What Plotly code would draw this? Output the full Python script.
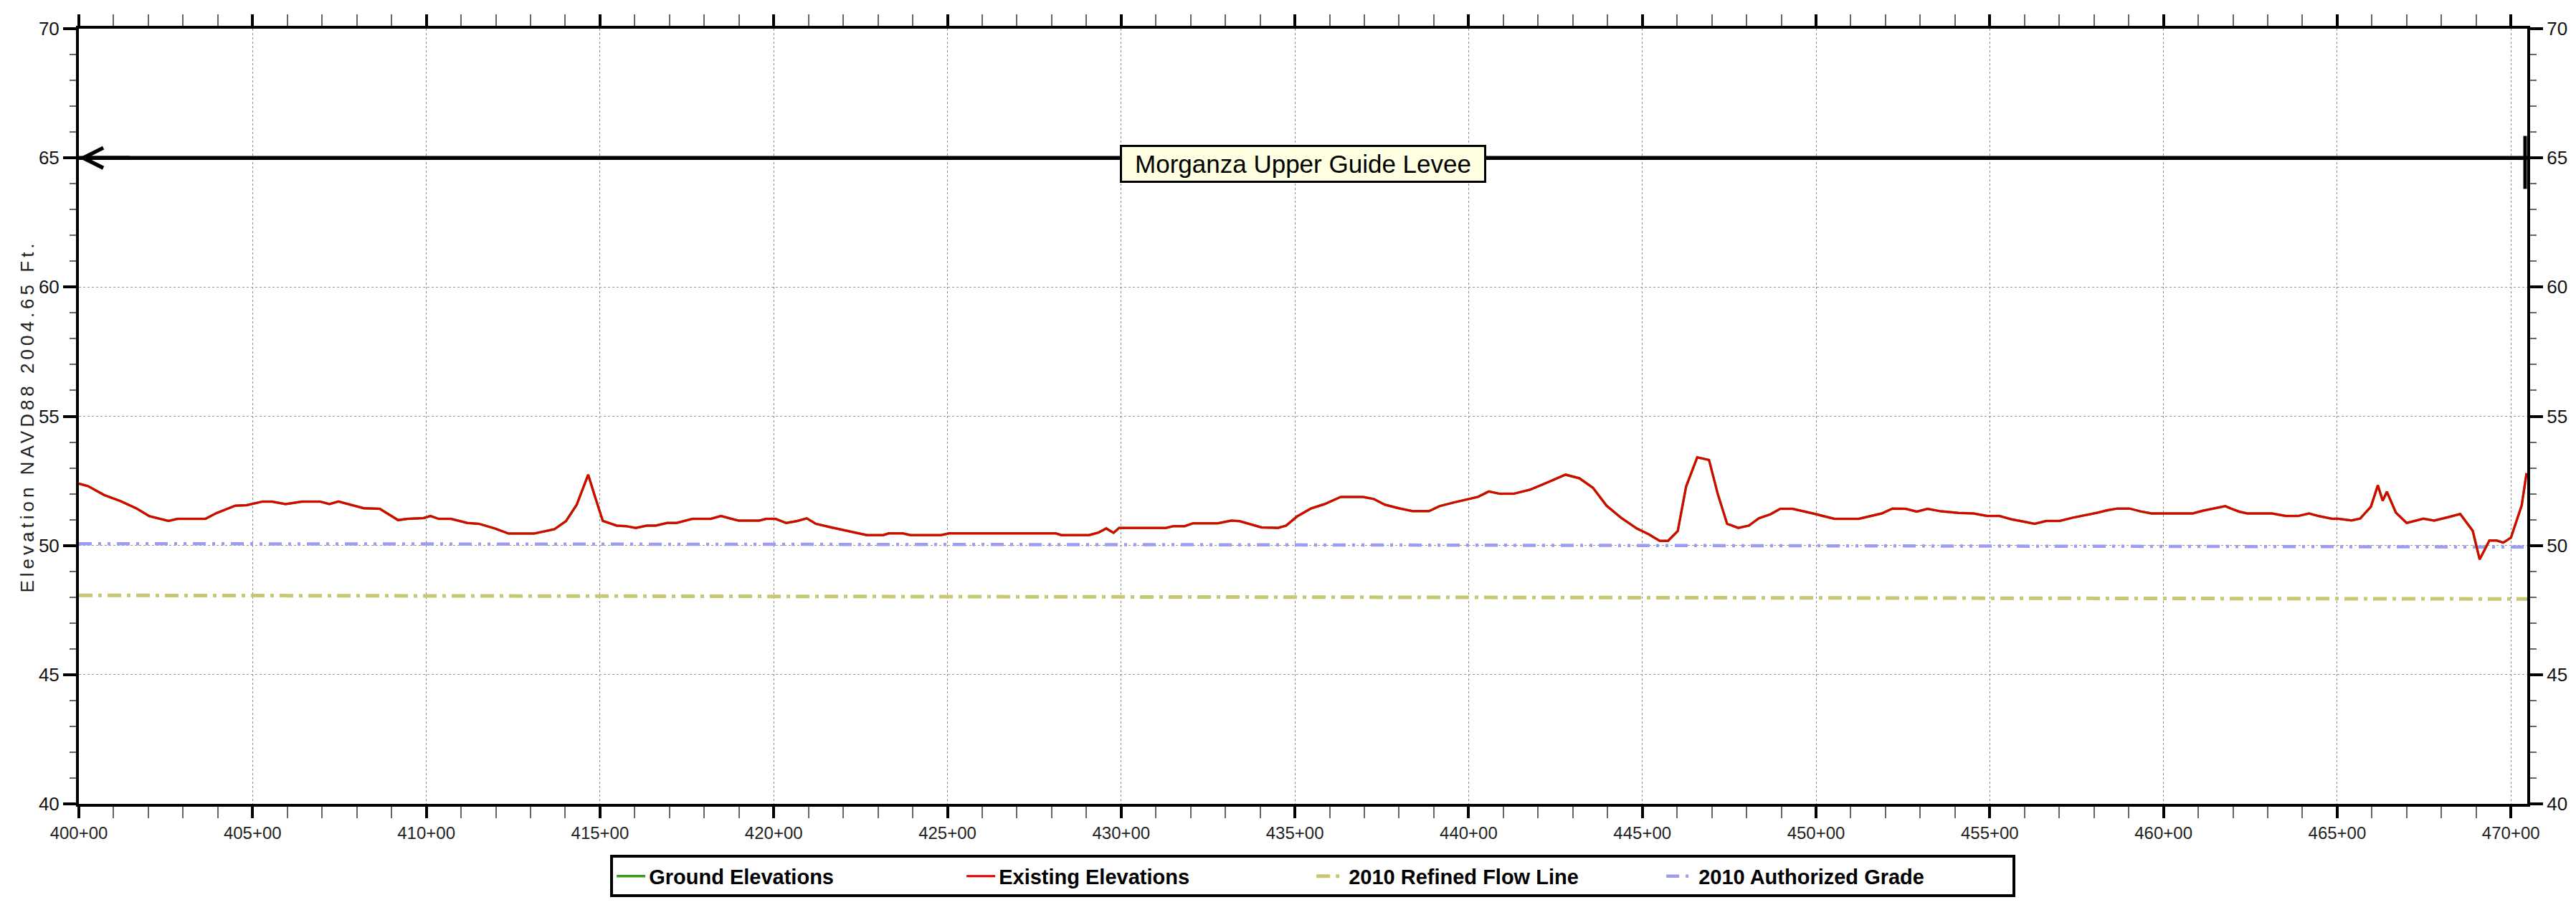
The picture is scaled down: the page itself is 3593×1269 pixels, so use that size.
import plotly.graph_objects as go

# ---------------- data ----------------
STATIONS = [400.0, 400.26, 400.73, 401.19, 401.65, 402.02, 402.58, 402.84, 403.64, 403.97,
            404.50, 404.83, 405.29, 405.56, 405.95, 406.42, 406.94, 407.21, 407.47, 408.20,
            408.66, 409.19, 409.46, 409.92, 410.12, 410.36, 410.71, 411.18, 411.51, 411.97,
            412.37, 413.10, 413.69, 414.02, 414.33, 414.66, 414.85, 415.08, 415.48, 415.74,
            416.03, 416.34, 416.60, 416.93, 417.20, 417.66, 418.19, 418.48, 418.99, 419.58,
            419.78, 420.05, 420.36, 420.68, 420.95, 421.21, 421.66, 422.13, 422.68, 423.15,
            423.31, 423.71, 423.94, 424.81, 425.05, 428.12, 428.28, 429.07, 429.35, 429.57,
            429.78, 429.94, 431.28, 431.51, 431.83, 432.07, 432.78, 433.17, 433.41, 434.04,
            434.51, 434.75, 435.06, 435.46, 435.85, 436.32, 436.96, 437.27, 437.59, 437.99,
            438.38, 438.86, 439.16, 439.56, 439.95, 440.27, 440.58, 440.90, 441.29, 441.77,
            442.24, 442.79, 443.19, 443.58, 443.97, 444.39, 444.84, 445.19, 445.50, 445.74,
            446.02, 446.26, 446.58, 446.92, 447.17, 447.44, 447.76, 448.07, 448.35, 448.69,
            448.97, 449.32, 450.00, 450.53, 451.23, 451.89, 452.20, 452.58, 452.90, 453.21,
            453.60, 454.10, 454.53, 454.92, 455.28, 455.63, 455.99, 456.29, 456.62, 457.01,
            457.37, 457.72, 458.08, 458.39, 458.67, 459.02, 459.34, 459.65, 460.84, 461.15,
            461.47, 461.78, 461.94, 462.18, 462.41, 463.12, 463.52, 463.87, 464.19, 464.46,
            464.86, 465.00, 465.41, 465.66, 465.97, 466.17, 466.31, 466.43, 466.69, 467.00,
            467.48, 467.79, 468.21, 468.54, 468.90, 469.10, 469.38, 469.59, 469.78, 470.00,
            470.31, 470.45]

EXISTING_ELEV = [52.39, 52.30, 51.95, 51.72, 51.44, 51.14, 50.95, 51.03, 51.03, 51.26,
                 51.54, 51.56, 51.70, 51.70, 51.60, 51.70, 51.70, 51.60, 51.70, 51.44,
                 51.42, 50.98, 51.03, 51.06, 51.14, 51.03, 51.03, 50.87, 50.84, 50.66,
                 50.46, 50.46, 50.63, 50.94, 51.58, 52.74, 51.91, 50.95, 50.77, 50.75,
                 50.68, 50.77, 50.77, 50.87, 50.87, 51.03, 51.03, 51.14, 50.96, 50.96,
                 51.03, 51.03, 50.87, 50.95, 51.05, 50.84, 50.70, 50.56, 50.40, 50.40,
                 50.47, 50.47, 50.40, 50.40, 50.47, 50.47, 50.40, 50.40, 50.50, 50.66,
                 50.49, 50.68, 50.68, 50.75, 50.75, 50.86, 50.86, 50.96, 50.94, 50.70,
                 50.68, 50.77, 51.12, 51.43, 51.60, 51.88, 51.88, 51.80, 51.58, 51.44,
                 51.33, 51.33, 51.52, 51.66, 51.77, 51.88, 52.09, 52.00, 52.00, 52.16,
                 52.42, 52.74, 52.60, 52.23, 51.54, 51.07, 50.66, 50.43, 50.18, 50.18,
                 50.56, 52.28, 53.41, 53.31, 52.00, 50.84, 50.68, 50.77, 51.05, 51.21,
                 51.42, 51.42, 51.21, 51.03, 51.03, 51.24, 51.43, 51.42, 51.31, 51.42,
                 51.32, 51.26, 51.24, 51.14, 51.14, 51.01, 50.92, 50.84, 50.95, 50.95,
                 51.07, 51.17, 51.26, 51.37, 51.43, 51.43, 51.32, 51.24, 51.24, 51.35,
                 51.43, 51.52, 51.43, 51.31, 51.24, 51.24, 51.14, 51.14, 51.24, 51.14,
                 51.03, 51.04, 50.97, 51.04, 51.50, 52.33, 51.73, 52.08, 51.27, 50.87,
                 51.04, 50.96, 51.10, 51.22, 50.57, 49.46, 50.19, 50.19, 50.11, 50.30,
                 51.55, 52.80]

# ground elevations coincide with the existing surface (hidden beneath the red line)
GROUND_ELEV = EXISTING_ELEV

GRADE_STATIONS = [400.0, 410.0, 432.0, 449.0, 460.0, 470.47]
AUTHORIZED_GRADE = [50.07, 50.06, 50.03, 49.99, 49.96, 49.94]

FLOW_STATIONS = [400.0, 435.0, 470.47]
REFINED_FLOW_LINE = [48.07, 48.00, 47.93]

X_TICKS = [400, 405, 410, 415, 420, 425, 430, 435, 440, 445, 450, 455, 460, 465, 470]
X_TICK_LABELS = ["400+00", "405+00", "410+00", "415+00", "420+00", "425+00", "430+00",
                 "435+00", "440+00", "445+00", "450+00", "455+00", "460+00", "465+00", "470+00"]
X_RANGE = [400.0, 470.47]
Y_RANGE = [40, 70]

LEVEE_NAME = "Morganza Upper Guide Levee"
LEVEE_START = 400.0
LEVEE_END = 470.47
LEVEE_ELEV = 65.0
LEVEE_END_BAR = [63.8, 65.85]

# ---------------- figure ----------------
FONT = "Arial, Liberation Sans, sans-serif"

fig = go.Figure()

fig.add_trace(go.Scatter(
    x=FLOW_STATIONS, y=REFINED_FLOW_LINE, name="2010 Refined Flow Line", mode="lines",
    line=dict(color="#c8c872", width=5, dash="19px,8px,5px,8px"), legendrank=3))
fig.add_trace(go.Scatter(
    x=GRADE_STATIONS, y=AUTHORIZED_GRADE, name="2010 Authorized Grade", mode="lines",
    line=dict(color="#9c9cf2", width=4.5, dash="18px,9px,4px,9px,4px,9px"), legendrank=4))
fig.add_trace(go.Scatter(
    x=STATIONS, y=GROUND_ELEV, name="Ground Elevations", mode="lines",
    line=dict(color="#3c9a1e", width=3.5), legendrank=1))
fig.add_trace(go.Scatter(
    x=STATIONS, y=EXISTING_ELEV, name="Existing Elevations", mode="lines",
    line=dict(color="#e00000", width=3), legendrank=2))
# anchor trace for the right-hand elevation axis
fig.add_trace(go.Scatter(x=[], y=[], yaxis="y2", showlegend=False, hoverinfo="skip"))

# levee reach line with arrowhead and end bar
fig.add_shape(type="line", xref="x", yref="y", x0=LEVEE_START, x1=LEVEE_END,
              y0=LEVEE_ELEV, y1=LEVEE_ELEV, line=dict(color="black", width=5.5))
fig.add_shape(type="line", xref="x", yref="y", xsizemode="pixel", xanchor=LEVEE_END,
              x0=-3, x1=-3, y0=LEVEE_END_BAR[0], y1=LEVEE_END_BAR[1],
              line=dict(color="black", width=5))
fig.add_annotation(x=LEVEE_START, y=LEVEE_ELEV, ax=LEVEE_START + 1.5, ay=LEVEE_ELEV,
                   axref="x", ayref="y", xref="x", yref="y", text="", showarrow=True,
                   arrowhead=5, arrowsize=1.0, arrowwidth=5.5, arrowcolor="black")
fig.add_annotation(x=0.5, xref="paper", y=LEVEE_ELEV, yref="y", yshift=-8,
                   text=LEVEE_NAME, showarrow=False,
                   font=dict(family=FONT, size=35, color="black"),
                   bgcolor="#ffffe1", bordercolor="black", borderwidth=3, borderpad=3,
                   width=499, height=41, align="center")

axis_common = dict(showline=True, linecolor="black", linewidth=4,
                   ticks="outside", tickcolor="black", tickwidth=4,
                   zeroline=False)

fig.update_layout(
    width=3593, height=1269,
    margin=dict(l=110, r=60, t=40, b=148),
    paper_bgcolor="white", plot_bgcolor="white",
    font=dict(family=FONT, color="black"),
    xaxis=dict(range=X_RANGE, tickmode="array", tickvals=X_TICKS, ticktext=X_TICK_LABELS,
               ticklen=16, mirror="allticks",
               showgrid=True, gridcolor="#8a8a8a", griddash="dot", gridwidth=1,
               tickfont=dict(family=FONT, size=24, color="#222"),
               minor=dict(tickmode="linear", tick0=400, dtick=1, ticks="outside",
                          ticklen=9, tickwidth=1.5, tickcolor="#666", showgrid=False),
               **axis_common),
    yaxis=dict(range=Y_RANGE, tickmode="linear", tick0=40, dtick=5, ticklen=18,
               showgrid=True, gridcolor="#9a9a9a", griddash="dot", gridwidth=1,
               tickfont=dict(family=FONT, size=26, color="#111"),
               title=dict(text="Elevation NAVD88 2004.65 Ft.",
                          font=dict(family=FONT, size=26, color="#222"), standoff=0),
               minor=dict(tickmode="linear", tick0=40, dtick=1, ticks="outside",
                          ticklen=9, tickwidth=1.5, tickcolor="#666", showgrid=False),
               **axis_common),
    yaxis2=dict(range=Y_RANGE, overlaying="y", side="right", tickmode="linear", tick0=40,
                dtick=5, ticklen=18, showgrid=False,
                tickfont=dict(family=FONT, size=26, color="#111"),
                minor=dict(tickmode="linear", tick0=40, dtick=1, ticks="outside",
                           ticklen=9, tickwidth=1.5, tickcolor="#666", showgrid=False),
                **axis_common),
    legend=dict(orientation="h", x=0.504, xanchor="center", y=-0.066, yanchor="top",
                bgcolor="white", bordercolor="black", borderwidth=4,
                font=dict(family=FONT, size=29, color="black", weight="bold"),
                entrywidthmode="pixels", entrywidth=433, itemwidth=40,
                traceorder="normal"),
    showlegend=True,
)

post = ("document.body.style.margin='0';"
        "document.querySelectorAll('.g-ytitle text').forEach(function(t){"
        "t.setAttribute('letter-spacing','5px');});")

fig.write_html("out.html", post_script=post, config={"displayModeBar": False})
